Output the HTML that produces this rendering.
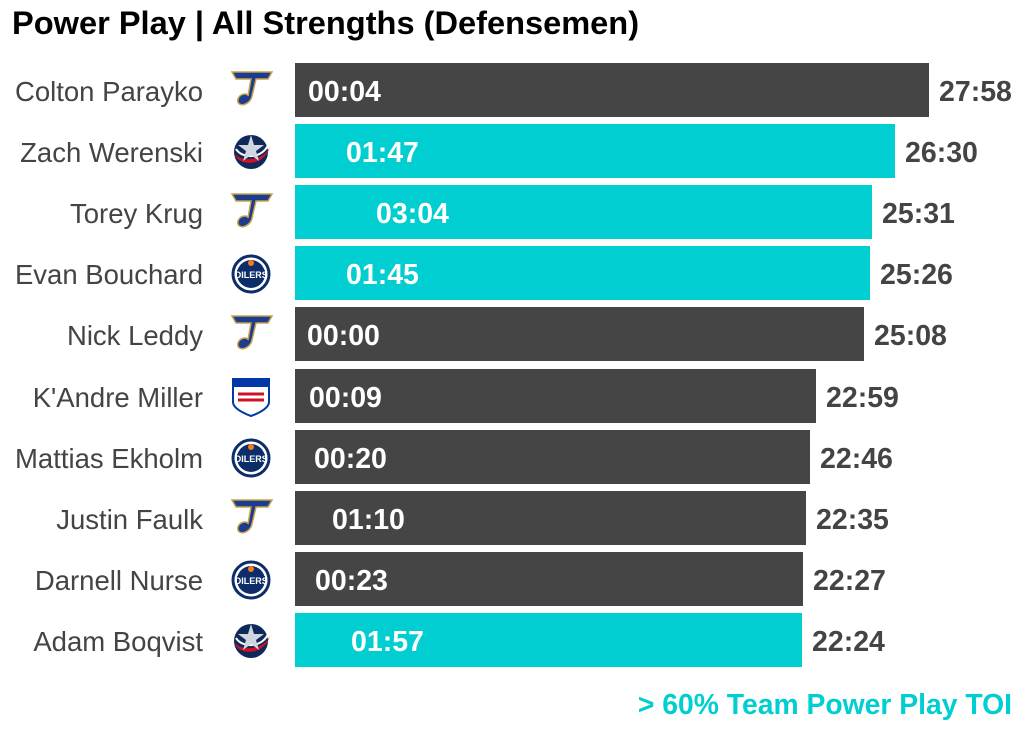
<!DOCTYPE html>
<html><head><style>
body{margin:0;width:1024px;height:731px;background:#fff;font-family:"Liberation Sans",Arial,sans-serif;position:relative;overflow:hidden}
.t{position:absolute;left:12px;top:4px;font-size:32.6px;font-weight:bold;color:#000}
.n{position:absolute;right:821px;font-size:27.5px;color:#444;line-height:30px}
.b{position:absolute;left:295px;height:54px}
.i{position:absolute;font-size:28.5px;font-weight:bold;color:#fff;line-height:30px}
.e{position:absolute;font-size:28.5px;font-weight:bold;color:#444;line-height:30px}
.f{position:absolute;right:12px;top:688px;font-size:28.3px;font-weight:bold;color:#00CED1}
svg{position:absolute}
</style></head><body>
<div class="t">Power Play | All Strengths (Defensemen)</div>
<div id="c"></div>
<div class="f">&gt; 60% Team Power Play TOI</div>
<script>
var d=[["Colton Parayko","B",929,"00:04",308,"27:58",0],["Zach Werenski","C",895,"01:47",346,"26:30",1],["Torey Krug","B",872,"03:04",376,"25:31",1],["Evan Bouchard","O",870,"01:45",346,"25:26",1],["Nick Leddy","B",864,"00:00",307,"25:08",0],["K'Andre Miller","R",816,"00:09",309,"22:59",0],["Mattias Ekholm","O",810,"00:20",314,"22:46",0],["Justin Faulk","B",806,"01:10",332,"22:35",0],["Darnell Nurse","O",803,"00:23",315,"22:27",0],["Adam Boqvist","C",802,"01:57",351,"22:24",1]];
var logos={
B:'<path d="M6 6 L46 6 L42 13 L30 13 L26 30 C24 40 10 42 12 33 C14 27 22 27 22 30 L25 13 L10 13 Z" fill="#1b3c8f" stroke="#c9a24a" stroke-width="1.5"/>',
C:'<circle cx="25" cy="25" r="17" fill="#0f2a5a"/><path d="M8 26 C12 40 38 40 44 20 C38 34 14 36 8 26Z" fill="#ce1126"/><path d="M10 22 C16 32 36 32 42 18" stroke="#fff" stroke-width="2" fill="none"/><polygon points="25,8 28,18 38,18 30,24 33,34 25,28 17,34 20,24 12,18 22,18" fill="#cfd6e0"/>',
O:'<circle cx="25" cy="25" r="18" fill="#fff" stroke="#0c2d69" stroke-width="3"/><circle cx="25" cy="25" r="14" fill="#0c2d69"/><rect x="11" y="21" width="28" height="8" fill="#0c2d69"/><text x="25" y="29" font-size="9" font-weight="bold" fill="#fff" text-anchor="middle" font-family="Liberation Sans">OILERS</text><circle cx="25" cy="14" r="3" fill="#f47a20"/>',
R:'<path d="M7 7 H43 V30 C43 38 25 44 25 44 C25 44 7 38 7 30 Z" fill="#fff" stroke="#0038a8" stroke-width="2"/><rect x="7" y="7" width="36" height="8" fill="#0038a8"/><path d="M12 22 L38 22 M12 28 L38 28" stroke="#ce1126" stroke-width="3"/>'
};
var h="";
d.forEach(function(r,k){var cy=91+k*61.1;
h+='<div class="n" style="top:'+(cy-14)+'px">'+r[0]+'</div>';
h+='<svg width="50" height="50" style="left:226px;top:'+(cy-25)+'px" viewBox="0 0 50 50">'+logos[r[1]]+'</svg>';
h+='<div class="b" style="top:'+(cy-28)+'px;width:'+(r[2]-295)+'px;background:'+(r[6]?'#00CED1':'#464545')+'"></div>';
h+='<div class="i" style="top:'+(cy-14)+'px;left:'+r[4]+'px">'+r[3]+'</div>';
h+='<div class="e" style="top:'+(cy-14)+'px;left:'+(r[2]+10)+'px">'+r[5]+'</div>';});
document.getElementById("c").innerHTML=h;
</script>
</body></html>
